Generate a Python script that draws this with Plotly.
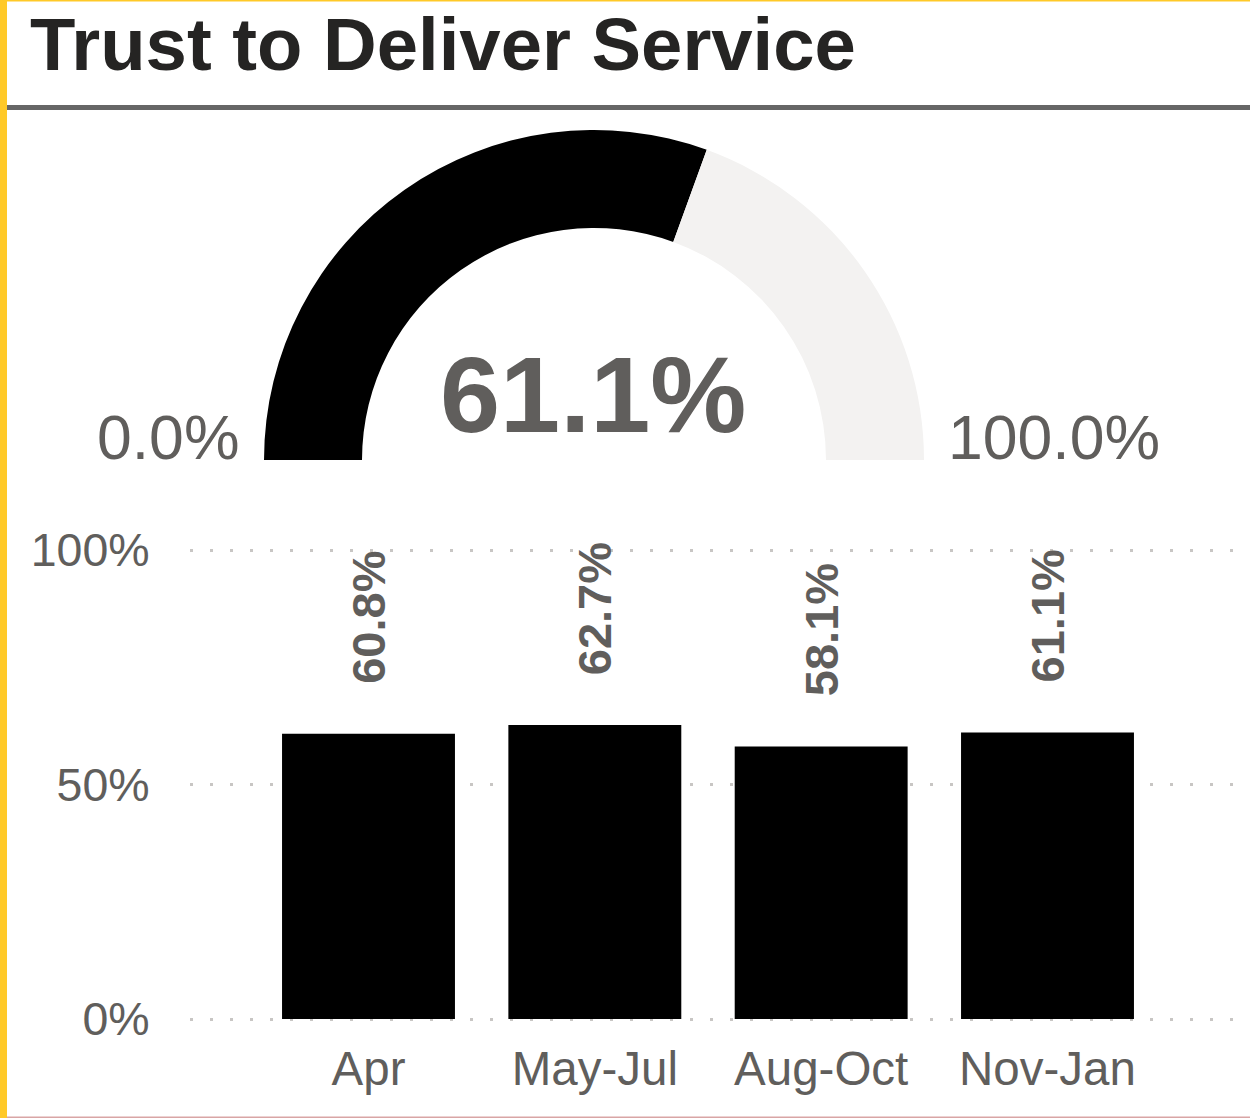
import plotly.graph_objects as go

# ---- data ----
title_text = "Trust to Deliver Service"
gauge_value = 61.1
gauge_min = 0.0
gauge_max = 100.0
periods = ["Apr", "May-Jul", "Aug-Oct", "Nov-Jan"]
scores = [60.8, 62.7, 58.1, 61.1]
y_ticks = [0, 50, 100]

W, H = 1250, 1118
FONT = "Liberation Sans, Arial, sans-serif"
GRAY = "#605E5C"


def px(x):
    return x / W


def py(y):
    return 1 - y / H


fig = go.Figure()

# gauge drawn as a half donut
fig.add_trace(go.Pie(
    values=[gauge_value - gauge_min, gauge_max - gauge_value, gauge_max - gauge_min],
    marker=dict(colors=["#000000", "#F3F2F1", "rgba(0,0,0,0)"], line=dict(width=0)),
    hole=232 / 330,
    sort=False,
    direction="clockwise",
    rotation=-90,
    textinfo="none",
    hoverinfo="skip",
    showlegend=False,
    automargin=False,
    domain=dict(x=[px(264), px(924)], y=[py(790), py(130)]),
))

# bars
fig.add_trace(go.Bar(
    x=periods, y=scores, width=0.764,
    marker=dict(color="#000000", line=dict(width=0)),
    showlegend=False, hoverinfo="x+y",
))

annotations = []
for p, v in zip(periods, scores):
    annotations.append(dict(
        x=p, y=v, xref="x", yref="y", text=f"{v:.1f}%", textangle=-90,
        showarrow=False, yanchor="bottom", xanchor="center", yshift=48,
        font=dict(family=FONT, size=47, color=GRAY, weight="bold"),
    ))

annotations += [
    dict(x=px(28), y=py(45), xref="paper", yref="paper", text=title_text,
         showarrow=False, xanchor="left", yanchor="middle",
         font=dict(family=FONT, size=74.3, color="#252423", weight="bold")),
    dict(x=px(593), y=py(394), xref="paper", yref="paper", text=f"{gauge_value:.1f}%",
         showarrow=False, xanchor="center", yanchor="middle",
         font=dict(family=FONT, size=108, color=GRAY, weight="bold")),
    dict(x=px(241), y=py(437), xref="paper", yref="paper", text=f"{gauge_min:.1f}%",
         showarrow=False, xanchor="right", yanchor="middle",
         font=dict(family=FONT, size=62.5, color=GRAY)),
    dict(x=px(946), y=py(437), xref="paper", yref="paper", text=f"{gauge_max:.1f}%",
         showarrow=False, xanchor="left", yanchor="middle",
         font=dict(family=FONT, size=62.5, color=GRAY)),
]

shapes = [
    dict(type="rect", xref="paper", yref="paper", x0=0, x1=px(7), y0=0, y1=1,
         fillcolor="#FFC928", line=dict(width=0), layer="above"),
    dict(type="rect", xref="paper", yref="paper", x0=0, x1=1, y0=py(1.5), y1=1,
         fillcolor="#FFC928", line=dict(width=0), layer="above"),
    dict(type="rect", xref="paper", yref="paper", x0=px(7), x1=1, y0=0, y1=py(1116.5),
         fillcolor="#D9A5A5", line=dict(width=0), layer="above"),
    dict(type="line", xref="paper", yref="paper", x0=px(7), x1=1, y0=py(107.5), y1=py(107.5),
         line=dict(color="#666666", width=5)),
]

px_per_unit = (1019 - 550) / 100.0
y_lo, y_hi = -0.4, 100.4
bottom_px = 1019 + 0.4 * px_per_unit
top_px = 550 - 0.4 * px_per_unit

# x axis: plot area from 190 to 1234 px, bar spacing 226.33 px
x_left, x_right = 190, 1234
spacing = (1047.5 - 368.5) / 3
r0 = -(368.5 - x_left) / spacing
r1 = r0 + (x_right - x_left) / spacing

fig.update_layout(
    template="none",
    width=W, height=H,
    margin=dict(l=0, r=0, t=0, b=0, pad=0, autoexpand=False),
    paper_bgcolor="white", plot_bgcolor="white",
    font=dict(family=FONT, color=GRAY),
    annotations=annotations,
    shapes=shapes,
    xaxis=dict(
        domain=[px(x_left), px(x_right)],
        type="category",
        categoryorder="array", categoryarray=periods,
        range=[r0, r1],
        showgrid=False, zeroline=False, showline=False, automargin=False,
        ticks="outside", ticklen=6, tickcolor="rgba(0,0,0,0)",
        tickfont=dict(family=FONT, size=47.5, color=GRAY),
        fixedrange=True,
    ),
    yaxis=dict(
        domain=[py(bottom_px), py(top_px)],
        range=[y_lo, y_hi],
        tickvals=y_ticks, ticktext=[f"{t}%" for t in y_ticks],
        showgrid=True, gridcolor="#C8C6C4", gridwidth=3, griddash="3px,17px",
        zeroline=False, showline=False, automargin=False,
        ticks="outside", ticklen=30, tickcolor="rgba(0,0,0,0)",
        tickfont=dict(family=FONT, size=46.5, color=GRAY),
        fixedrange=True,
    ),
    bargap=0.2,
)

fig.write_html(
    "out.html",
    config={"displayModeBar": False},
    post_script="document.body.style.margin='0';document.body.style.overflow='hidden';",
)
